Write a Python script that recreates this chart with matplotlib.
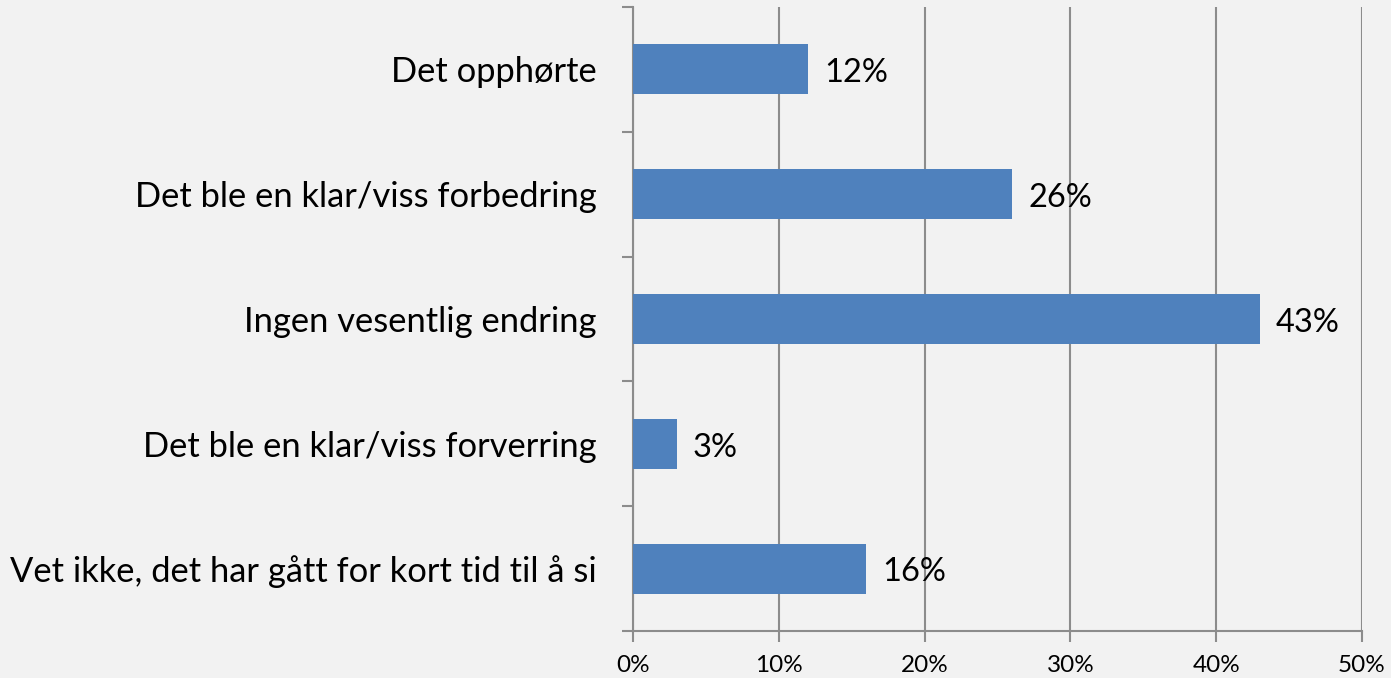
import matplotlib
matplotlib.use("Agg")
import matplotlib.pyplot as plt
from matplotlib.ticker import MultipleLocator, FuncFormatter
import numpy as np

categories = [
    "Det opphørte",
    "Det ble en klar/viss forbedring",
    "Ingen vesentlig endring",
    "Det ble en klar/viss forverring",
    "Vet ikke, det har gått for kort tid til å si",
]
values = [12, 26, 43, 3, 16]

plt.rcParams["font.family"] = ["Lato", "DejaVu Sans"]

fig = plt.figure(figsize=(13.91, 6.78), dpi=100, facecolor="#F2F2F2")
ax = fig.add_axes([633 / 1391, 47 / 678, 729 / 1391, 624 / 678])
ax.set_facecolor("#F2F2F2")

pos = np.arange(len(categories))
ax.barh(pos, values, height=0.4, color="#4F81BD", zorder=3)
for p, v in zip(pos, values):
    ax.text(v + 1.1, p + 0.03, f"{v}%", va="center", ha="left", fontsize=23.5)

ax.set_xlim(0, 50)
ax.set_ylim(len(categories) - 0.5, -0.5)
ax.xaxis.set_major_locator(MultipleLocator(10))
ax.xaxis.set_major_formatter(FuncFormatter(lambda x, _: f"{x:.0f}%"))
ax.grid(axis="x", color="#8C8C8C", linewidth=1.5, zorder=0)

ax.set_yticks(pos)
ax.set_yticklabels(categories, fontsize=24.8)
ax.set_yticks(np.arange(len(categories) + 1) - 0.5, minor=True)
ax.tick_params(axis="y", which="major", length=0, pad=26)
ax.tick_params(axis="y", which="minor", length=8, width=1.5, color="#8C8C8C")
ax.tick_params(axis="x", length=8, width=1.5, color="#8C8C8C", labelsize=17.5, pad=9)

for s in ["top", "right"]:
    ax.spines[s].set_visible(False)
for s in ["left", "bottom"]:
    ax.spines[s].set_color("#8C8C8C")
    ax.spines[s].set_linewidth(1.5)

fig.savefig("out.png", dpi=100, facecolor=fig.get_facecolor())
